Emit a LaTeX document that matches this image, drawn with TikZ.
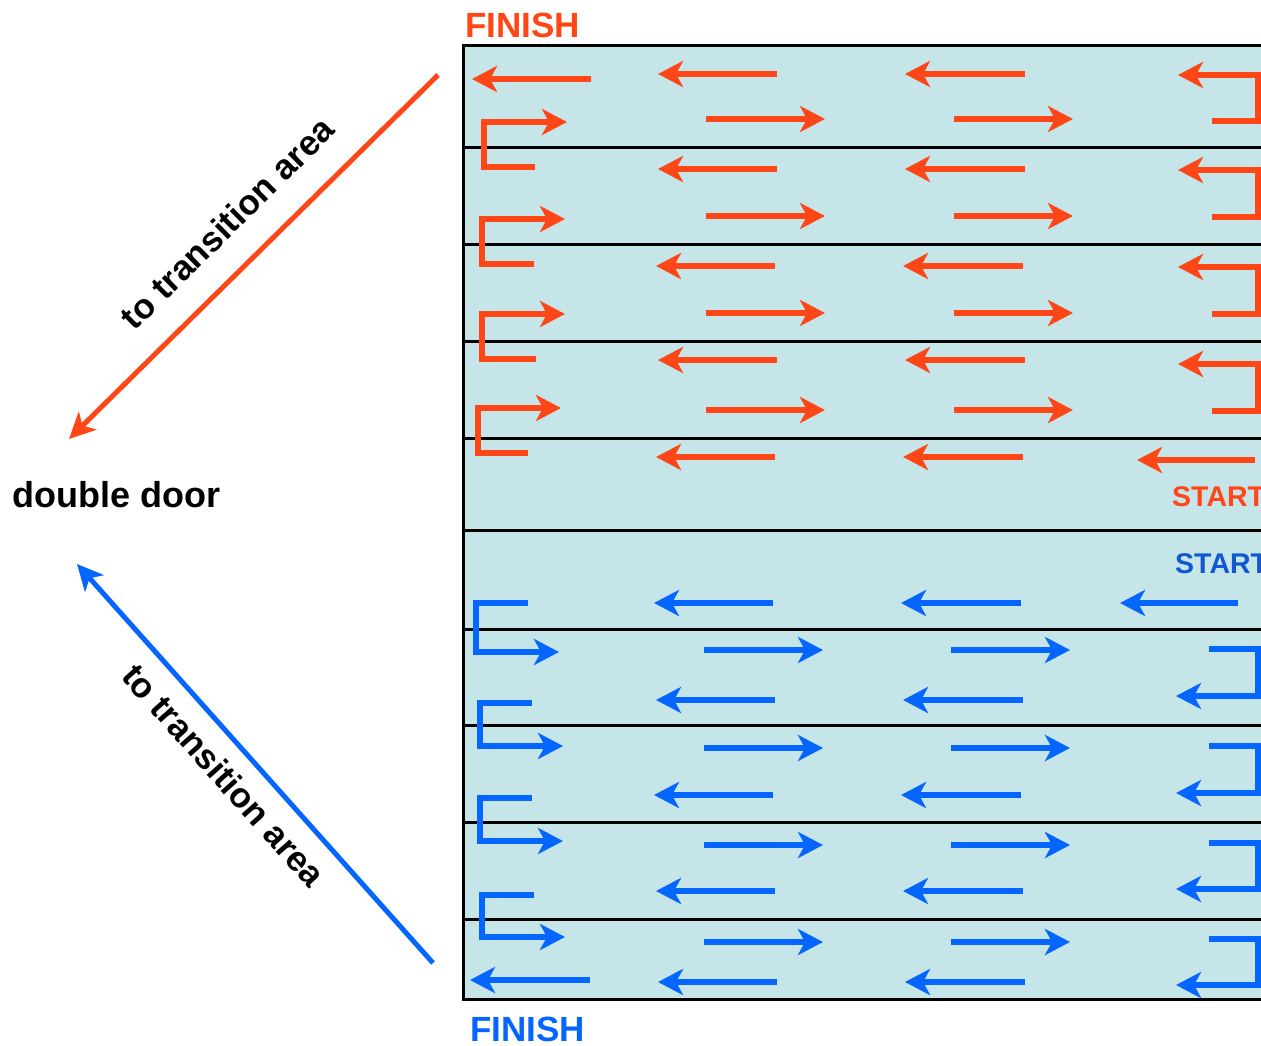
\documentclass[tikz,border=0pt]{standalone}
\usepackage{fontspec}
\setmainfont{Liberation Sans}
\usetikzlibrary{arrows.meta}
\definecolor{rc}{HTML}{FF4616}
\definecolor{bc}{HTML}{0566FF}
\definecolor{bstart}{HTML}{1058D0}
\definecolor{fillc}{HTML}{C5E5E8}
\tikzset{
  hd/.style={-{Stealth[length=25pt,width=26pt,inset=7pt]}},
  rarr/.style={hd, draw=rc, line width=6pt, line join=miter},
  barr/.style={hd, draw=bc, line width=6pt, line join=miter},
  diag/.style={-{Stealth[length=26pt,width=25pt,inset=7pt]}, line width=5pt},
  bigtxt/.style={font=\bfseries\fontsize{35}{40}\selectfont, inner sep=0pt},
  doortxt/.style={font=\bfseries\fontsize{36}{40}\selectfont, inner sep=0pt},
  starttxt/.style={font=\bfseries\fontsize{28.5}{33}\selectfont, inner sep=0pt},
  sep/.style={line width=3pt}
}
\begin{document}
\begin{tikzpicture}[x=1pt,y=-1pt]
\clip (0,0) rectangle (1261,1045);
\fill[white] (0,0) rectangle (1261,1045);
% field
\draw[line width=3pt, fill=fillc] (463,45) rectangle (1280,999);
\foreach \y in {147,244,341,438,530,629,725,822,919}
  \draw[sep] (464.5,\y) -- (1280,\y);

% ---------- red (upper) ----------
\foreach \y/\d in {74/0,169/0,266/2,360/0,457/2} {
  \draw[rarr] (777-\d,\y) -- (658-\d,\y);
  \draw[rarr] (1025-\d,\y) -- (905-\d,\y);
}
\foreach \y in {119,216,313,410} {
  \draw[rarr] (706,\y) -- (825,\y);
  \draw[rarr] (954,\y) -- (1073,\y);
}
\draw[rarr] (591,79) -- (472,79);
\draw[rarr] (1255,460) -- (1137,460);
% left hooks
\draw[rarr] (535,167) -- (484,167) -- (484,122) -- (567,122);
\draw[rarr] (534,264) -- (482,264) -- (482,219) -- (565,219);
\draw[rarr] (536,359) -- (482,359) -- (482,314) -- (565,314);
\draw[rarr] (528,453) -- (478,453) -- (478,408) -- (561,408);
% right hooks
\foreach \lo/\up in {121/75,217/170,314/267,411/364}
  \draw[rarr] (1212,\lo) -- (1258,\lo) -- (1258,\up) -- (1178,\up);

% ---------- blue (lower) ----------
\foreach \y/\d in {603/2,700/0,795/2,891/0,982/-2} {
  \draw[barr] (775-\d,\y) -- (656-\d,\y);
  \draw[barr] (1023-\d,\y) -- (903-\d,\y);
}
\foreach \y in {650,748,845,942} {
  \draw[barr] (704,\y) -- (823,\y);
  \draw[barr] (951,\y) -- (1070,\y);
}
\draw[barr] (590,980) -- (470,980);
\draw[barr] (1238,603) -- (1120,603);
% left hooks
\draw[barr] (528,603) -- (476,603) -- (476,652) -- (559,652);
\draw[barr] (532,703) -- (480,703) -- (480,746) -- (563,746);
\draw[barr] (532,798) -- (480,798) -- (480,841) -- (563,841);
\draw[barr] (534,895) -- (482,895) -- (482,937) -- (565,937);
% right hooks
\foreach \up/\lo in {649/696,746/793,843/889,939/985}
  \draw[barr] (1209,\up) -- (1258,\up) -- (1258,\lo) -- (1176,\lo);

% ---------- texts ----------
\node[bigtxt, text=rc, anchor=base west] (finR) at (465,37) {FINISH};
\node[bigtxt, text=bc, anchor=base west] (finB) at (470,1041) {FINISH};
\node[starttxt, text=rc, anchor=base west] (stR) at (1172,506) {START};
\node[starttxt, text=bstart, anchor=base west] (stB) at (1175,573) {START};
\node[doortxt, anchor=base west] (door) at (12,507) {double door};

% ---------- diagonal arrows ----------
\coordinate (rT) at (438,75);
\coordinate (rH) at (69,439);
\draw[diag, draw=rc] (rT) -- (rH);
\node[bigtxt, rotate=44.6] (tR) at (227,223) {to transition area};

\coordinate (bT) at (433,963);
\coordinate (bH) at (77,564);
\draw[diag, draw=bc] (bT) -- (bH);
\node[bigtxt, rotate=-48.3] (tB) at (224,775) {to transition area};
\end{tikzpicture}
\end{document}
